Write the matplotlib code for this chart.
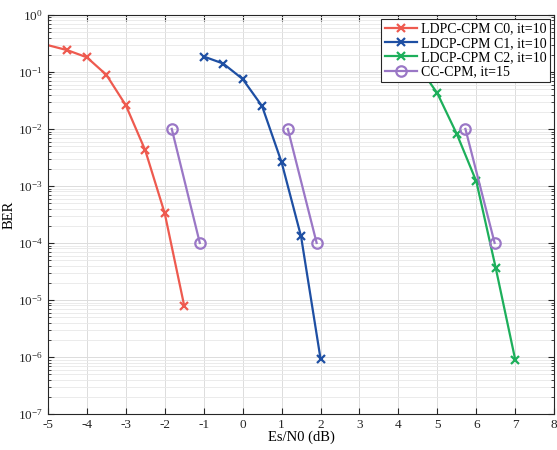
import matplotlib
matplotlib.use('Agg')
import matplotlib.pyplot as plt
from matplotlib.ticker import LogLocator, NullFormatter, MultipleLocator

plt.rcParams['font.family'] = ['Liberation Serif', 'DejaVu Serif']
plt.rcParams['mathtext.fontset'] = 'custom'
plt.rcParams['mathtext.rm'] = 'Liberation Serif'
plt.rcParams['mathtext.it'] = 'Liberation Serif:italic'
plt.rcParams['axes.unicode_minus'] = False

# data
snr_c0 = [-5.5, -4.5, -4.0, -3.5, -3.0, -2.5, -2.0, -1.5]
ber_c0 = [0.36, 0.24, 0.18, 0.089, 0.026, 0.0042, 3.3e-4, 7.9e-6]

snr_c1 = [-1.0, -0.5, 0.0, 0.5, 1.0, 1.5, 2.0]
ber_c1 = [0.186, 0.14, 0.075, 0.025, 0.0026, 1.3e-4, 9.3e-7]

snr_c2 = [4.0, 4.5, 5.0, 5.5, 6.0, 6.5, 7.0]
ber_c2 = [0.22, 0.13, 0.042, 0.0081, 0.0012, 3.6e-5, 8.9e-7]

snr_cc = [[-1.82, -1.1], [1.16, 1.9], [5.72, 6.47]]
ber_cc = [1e-2, 1e-4]

labels = ['LDPC-CPM C0, it=10', 'LDCP-CPM C1, it=10',
          'LDCP-CPM C2, it=10', 'CC-CPM, it=15']

red = '#EE5A4F'
blue = '#1E4FA3'
green = '#1DAF5B'
purple = '#9A77C6'

fig = plt.figure(figsize=(5.57, 4.5), dpi=100)
ax = fig.add_axes([0.086, 0.08, 0.909, 0.887])

ax.semilogy(snr_c0, ber_c0, '-x', color=red, lw=1.6, ms=6, mew=1.6, label=labels[0])
ax.semilogy(snr_c1, ber_c1, '-x', color=blue, lw=1.6, ms=6, mew=1.6, label=labels[1])
ax.semilogy(snr_c2, ber_c2, '-x', color=green, lw=1.6, ms=6, mew=1.6, label=labels[2])
for i, xs in enumerate(snr_cc):
    ax.semilogy(xs, ber_cc, '-o', color=purple, lw=1.6, ms=7.5, mew=1.6,
                mfc='none', label=labels[3] if i == 0 else None)

ax.set_xlim(-5, 8)
ax.set_ylim(1e-7, 1)
ax.xaxis.set_major_locator(MultipleLocator(1))
ax.yaxis.set_major_locator(LogLocator(base=10, numticks=10))
ax.yaxis.set_minor_locator(LogLocator(base=10, subs=range(2, 10), numticks=20))
ax.yaxis.set_minor_formatter(NullFormatter())

ax.grid(True, which='major', color='#dcdcdc', lw=0.7)
ax.grid(True, which='minor', axis='y', color='#e8e8e8', lw=0.6)
ax.set_axisbelow(True)

ax.tick_params(which='both', direction='in', top=True, right=True,
               labelsize=9.5, colors='#262626')
ax.tick_params(which='major', length=4)
ax.tick_params(which='minor', length=2)
for s in ax.spines.values():
    s.set_color('#262626')
    s.set_linewidth(0.8)

ax.set_xlabel('Es/N0 (dB)', fontsize=10.5, labelpad=0)
ax.set_ylabel('BER', fontsize=10.5, labelpad=2)

leg = ax.legend(loc='upper right', fontsize=10, fancybox=False, framealpha=1,
                edgecolor='#262626', borderpad=0.25, labelspacing=0.1,
                handlelength=2.3, handletextpad=0.3, borderaxespad=0.3)
leg.get_frame().set_linewidth(0.8)

fig.savefig('out.png', dpi=100)
